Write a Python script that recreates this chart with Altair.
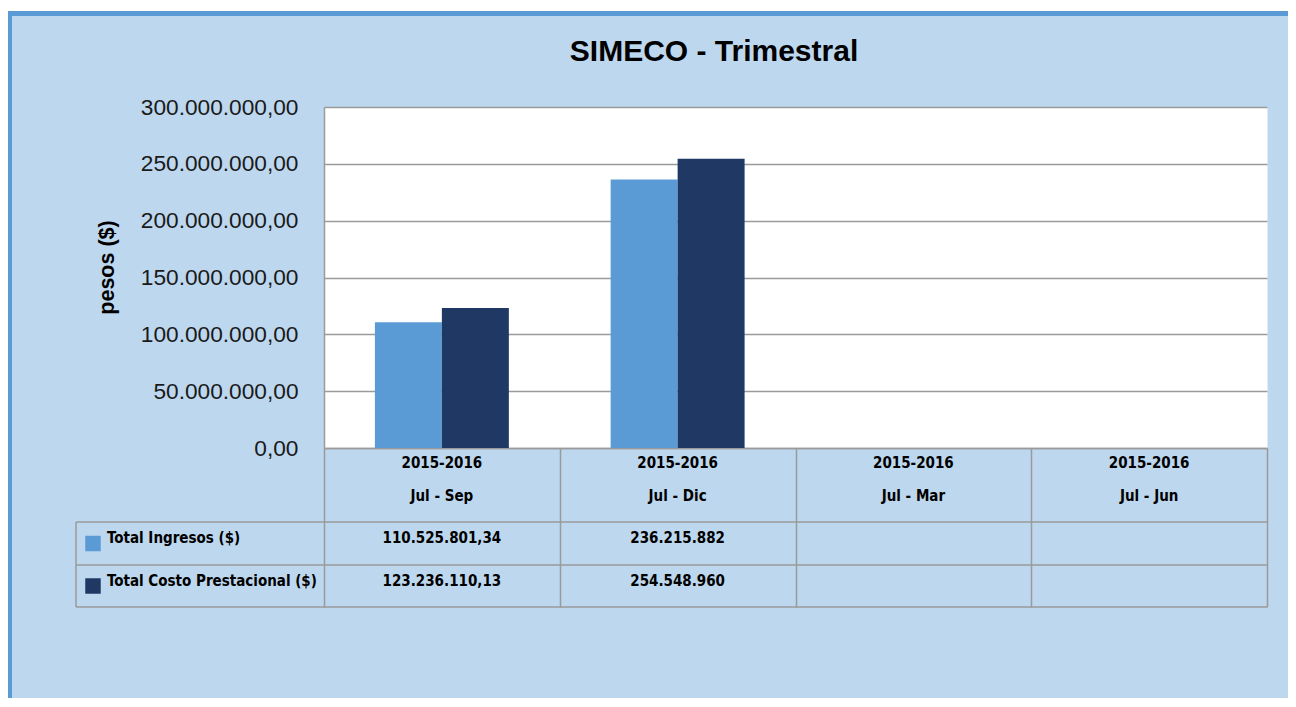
import altair as alt
import pandas as pd

# ---------------- data ----------------
categories = ["Jul - Sep", "Jul - Dic", "Jul - Mar", "Jul - Jun"]
period_labels = ["2015-2016", "2015-2016", "2015-2016", "2015-2016"]
series_names = ["Total Ingresos ($)", "Total Costo Prestacional ($)"]
ingresos = [110525801.34, 236215882.0, None, None]
costo = [123236110.13, 254548960.0, None, None]
ingresos_text = ["110.525.801,34", "236.215.882", "", ""]
costo_text = ["123.236.110,13", "254.548.960", "", ""]
y_ticks = [0, 50000000, 100000000, 150000000, 200000000, 250000000, 300000000]
series_colors = ["#5B9BD5", "#203864"]
chart_title = "SIMECO - Trimestral"
y_title = "pesos ($)"

# ---------------- layout (pixels relative to plot area) ----------------
W, H = 943, 341
BG = "#BDD7EE"
FRAME = "#5B9BD5"
LINE = "#9a9a9a"
NARROW = "'DejaVu Sans Condensed', 'Liberation Sans Narrow', sans-serif"
SANS = "'Liberation Sans', Arial, sans-serif"
header_y = [361, 394]
row_text_y = [436, 479]
swatch_y = [436.5, 479]
table_lines_y = [415, 458, 500]
table_left = -248

# ---------------- tables built from the lists ----------------
values_by_series = [ingresos, costo]
texts_by_series = [ingresos_text, costo_text]
bar_rows = []
for s, vals in zip(series_names, values_by_series):
    for c, v in zip(categories, vals):
        if v is not None:
            bar_rows.append({"category": c, "series": s, "value": v})
bars_df = pd.DataFrame(bar_rows)
header_df = pd.DataFrame({"category": categories, "period": period_labels})

color_scale = alt.Scale(domain=series_names, range=series_colors)
x_axis = alt.Axis(title=None, labels=False, domain=True, domainColor=LINE, domainWidth=1.5,
                  ticks=True, tickBand="extent", tickSize=159, tickColor=LINE, tickWidth=1.5,
                  grid=False)
X = alt.X("category:N", sort=categories,
          scale=alt.Scale(domain=categories, paddingInner=0, paddingOuter=0), axis=x_axis)

label_expr = ("replace(replace(replace(format(datum.value, ',.2f'), regexp(',', 'g'), '#'),"
              " regexp('[.]', 'g'), ','), regexp('#', 'g'), '.')")
y_axis = alt.Axis(values=y_ticks, title=y_title, titleX=-217, titleY=160, titleAngle=270,
                  titleAlign="center", titleBaseline="middle", titleFont=SANS, titleFontSize=21.5,
                  titleFontWeight="bold", titleColor="#000000",
                  labelExpr=label_expr, labelFont=SANS, labelFontSize=22.7, labelColor="#1a1a1a",
                  labelPadding=26, ticks=False, domain=True, domainColor=LINE, domainWidth=1.5,
                  grid=True, gridColor=LINE, gridWidth=1.5)

one = pd.DataFrame({"a": [0]})

# decorative frame
white_strip = alt.Chart(one).mark_rect(color="white").encode(
    x=alt.value(-316), x2=alt.value(W + 30), y=alt.value(-99), y2=alt.value(-96))
top_band = alt.Chart(one).mark_rect(color=FRAME).encode(
    x=alt.value(-316), x2=alt.value(W + 30), y=alt.value(-96), y2=alt.value(-91))
left_band = alt.Chart(one).mark_rect(color=FRAME).encode(
    x=alt.value(-316), x2=alt.value(-312), y=alt.value(-96), y2=alt.value(H + 260))

title = alt.Chart(one).mark_text(text=chart_title, font=SANS, fontSize=30, fontWeight="bold",
                                 color="#000000", align="center", baseline="alphabetic").encode(
    x=alt.value(390), y=alt.value(-46))

bars = alt.Chart(bars_df).mark_bar().encode(
    x=X,
    xOffset=alt.XOffset("series:N", sort=series_names,
                        scale=alt.Scale(domain=series_names, paddingInner=0, paddingOuter=0.76)),
    y=alt.Y("value:Q", scale=alt.Scale(domain=[0, 300000000], nice=False), axis=y_axis),
    color=alt.Color("series:N", scale=color_scale, legend=None),
)

text_style = dict(font=NARROW, fontSize=15, fontWeight="bold", color="#000000",
                  baseline="alphabetic")
head1 = alt.Chart(header_df).mark_text(align="center", **text_style).encode(
    x=X, y=alt.value(header_y[0]), text="period:N")
head2 = alt.Chart(header_df).mark_text(align="center", **text_style).encode(
    x=X, y=alt.value(header_y[1]), text="category:N")

layers = [white_strip, top_band, left_band, title, bars, head1, head2]

for i, s in enumerate(series_names):
    vdf = pd.DataFrame({"category": categories, "txt": texts_by_series[i]})
    layers.append(alt.Chart(vdf).mark_text(align="center", **text_style).encode(
        x=X, y=alt.value(row_text_y[i]), text="txt:N"))
    sdf = pd.DataFrame({"series": [s]})
    layers.append(alt.Chart(sdf).mark_text(align="left", **text_style).encode(
        x=alt.value(-217), y=alt.value(row_text_y[i]), text="series:N"))
    layers.append(alt.Chart(sdf).mark_square(size=240, opacity=1).encode(
        x=alt.value(-231), y=alt.value(swatch_y[i]),
        color=alt.Color("series:N", scale=color_scale, legend=None)))

for ly in table_lines_y:
    layers.append(alt.Chart(one).mark_rule(color=LINE, strokeWidth=1.5).encode(
        x=alt.value(table_left), x2=alt.value(W), y=alt.value(ly)))
layers.append(alt.Chart(one).mark_rule(color=LINE, strokeWidth=1.5).encode(
    x=alt.value(table_left), y=alt.value(table_lines_y[0]), y2=alt.value(table_lines_y[-1])))

chart = alt.layer(*layers).properties(
    width=W, height=H,
    autosize=alt.AutoSizeParams(type="none"),
    padding={"left": 316, "top": 99, "right": 21, "bottom": 250},
    background=BG,
).configure_view(fill="white", stroke="transparent")

chart.save("out.html", embed_options={"renderer": "svg", "actions": False})
